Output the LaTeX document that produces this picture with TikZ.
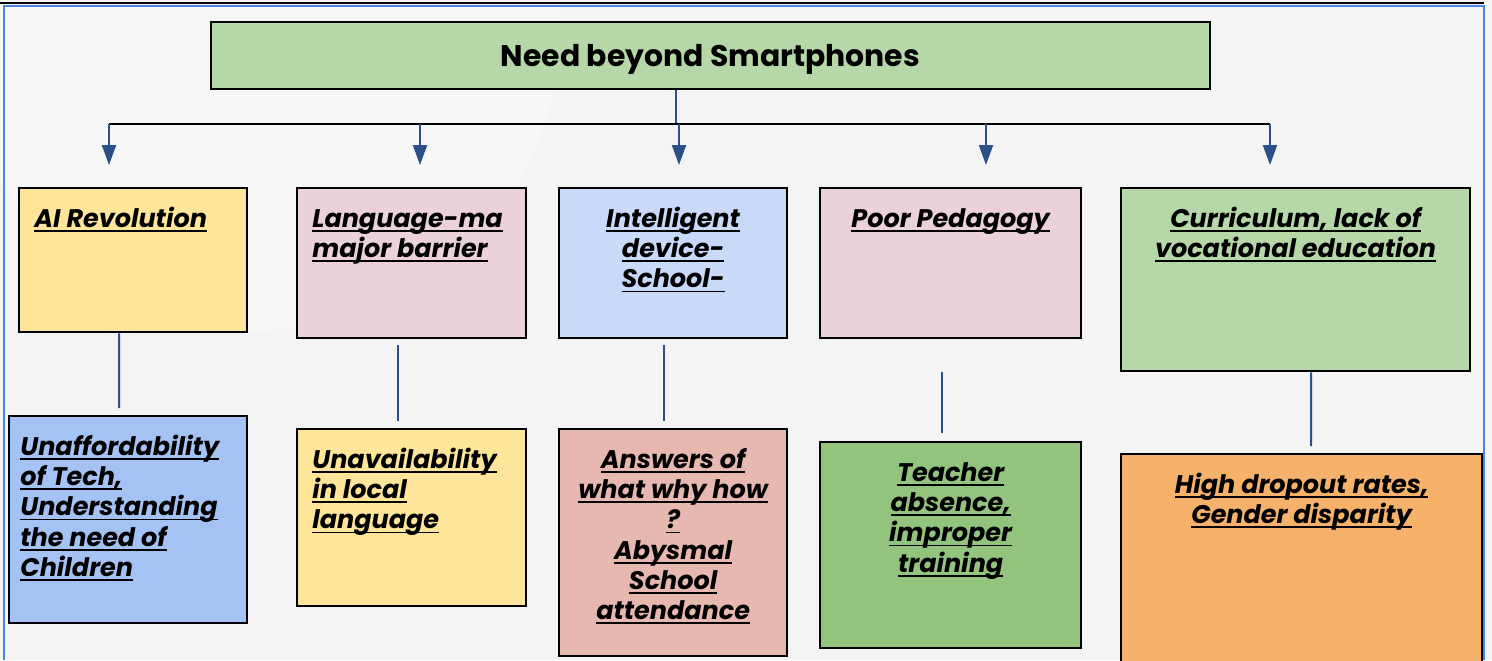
\documentclass[tikz,border=0pt]{standalone}
\usepackage{fontspec}
\setmainfont{Poppins}
\usetikzlibrary{arrows.meta}

\newsavebox{\ulbox}
\newcommand{\uln}[1]{\sbox{\ulbox}{#1}\rlap{\rule[-2.5pt]{\wd\ulbox}{1pt}}\usebox{\ulbox}}

\definecolor{bggray}{HTML}{F4F4F4}
\definecolor{framblue}{HTML}{4A86E8}
\definecolor{linkblue}{HTML}{2B4F86}
\definecolor{headgreen}{HTML}{B6D7A8}
\definecolor{boxyellow}{HTML}{FFE599}
\definecolor{boxpink}{HTML}{EAD1DC}
\definecolor{boxsky}{HTML}{C9DAF8}
\definecolor{boxblue}{HTML}{A4C2F4}
\definecolor{boxsalmon}{HTML}{E6B8AF}
\definecolor{boxgreen}{HTML}{93C47D}
\definecolor{boxorange}{HTML}{F6B26B}

\begin{document}
\begin{tikzpicture}[
    x=0.02cm, y=-0.02cm,
    box/.style={draw=black, line width=1.3pt, anchor=north west, inner sep=0pt},
    head/.style={draw=black, line width=1.3pt, fill=headgreen, text depth=0pt, font=\bfseries\fontsize{17}{20}\selectfont},
    txt/.style={inner sep=0pt, font=\bfseries\itshape\fontsize{14.5}{17.2}\selectfont},
    link/.style={draw=linkblue, line width=1.2pt},
    bus/.style={draw=black, line width=1.5pt},
    arrow/.style={link, -{Triangle[width=0.28cm,length=0.4cm]}, shorten >=0.44cm}
]
    % --- background and frame ---
    \fill[bggray] (0,0) rectangle (1492,660);
    \useasboundingbox (0,0) rectangle (1492,660);
    \fill[white, opacity=0.35] (260,30) circle (300);
    \draw[framblue, line width=1pt] (4,660) -- (4,6) -- (1484,6) -- (1484,660);
    \draw[black, line width=1.2pt] (0,3) -- (1484,3);

    % --- title ---
    \node[head, minimum width=19.98cm, minimum height=1.34cm] (need) at (710.5,55.5) {Need beyond Smartphones};

    % --- first row ---
    \node[box, fill=boxyellow, minimum width=4.56cm, minimum height=2.88cm] (ai) at (18,187) {};
    \node[txt, anchor=north west, align=left] (aiT) at ([xshift=0.32cm, yshift=-0.38cm]ai.north west) {\strut\uln{AI Revolution}};

    \node[box, fill=boxpink, minimum width=4.58cm, minimum height=3.0cm] (lang) at (296,187) {};
    \node[txt, anchor=north west, align=left] (langT) at ([xshift=0.32cm, yshift=-0.38cm]lang.north west) {\strut\uln{Language-ma}\\\uln{major barrier}};

    \node[box, fill=boxsky, minimum width=4.56cm, minimum height=3.0cm] (intel) at (558,187) {};
    \node[txt, anchor=north, align=center] (intelT) at ([yshift=-0.38cm]intel.north) {\strut\uln{Intelligent}\\\uln{device-}\\\uln{School-}};

    \node[box, fill=boxpink, minimum width=5.22cm, minimum height=3.0cm] (pedag) at (819,187) {};
    \node[txt, anchor=north, align=center] (pedagT) at ([yshift=-0.38cm]pedag.north) {\strut\uln{Poor Pedagogy}};

    \node[box, fill=headgreen, minimum width=6.98cm, minimum height=3.66cm] (curr) at (1120,187) {};
    \node[txt, anchor=north, align=center] (currT) at ([yshift=-0.38cm]curr.north) {\strut\uln{Curriculum, lack of}\\\uln{vocational education}};

    % --- second row ---
    \node[box, fill=boxblue, minimum width=4.76cm, minimum height=4.14cm] (afford) at (8,415) {};
    \node[txt, anchor=north west, align=left] (affordT) at ([xshift=0.24cm, yshift=-0.38cm]afford.north west) {\strut\uln{Unaffordability}\\\uln{of Tech,}\\\uln{Understanding}\\\uln{the need of}\\\uln{Children}};

    \node[box, fill=boxyellow, minimum width=4.58cm, minimum height=3.54cm] (avail) at (296,428) {};
    \node[txt, anchor=north west, align=left] (availT) at ([xshift=0.32cm, yshift=-0.38cm]avail.north west) {\strut\uln{Unavailability}\\\uln{in local}\\\uln{language}};

    \node[box, fill=boxsalmon, minimum width=4.56cm, minimum height=4.54cm] (answ) at (558,428) {};
    \node[txt, anchor=north, align=center] (answT) at ([yshift=-0.38cm]answ.north) {\strut\uln{Answers of}\\\uln{what why how}\\\uln{?}\\\uln{Abysmal}\\\uln{School}\\\uln{attendance}};

    \node[box, fill=boxgreen, minimum width=5.22cm, minimum height=4.12cm] (teach) at (819,441) {};
    \node[txt, anchor=north, align=center] (teachT) at ([yshift=-0.38cm]teach.north) {\strut\uln{Teacher}\\\uln{absence,}\\\uln{improper}\\\uln{training}};

    \node[box, fill=boxorange, minimum width=7.22cm, minimum height=4.5cm] (drop) at (1120,453) {};
    \node[txt, anchor=north, align=center] (dropT) at ([yshift=-0.38cm]drop.north) {\strut\uln{High dropout rates,}\\\uln{Gender disparity}};

    % --- title to first row ---
    \foreach \x/\n in {109/b1, 420/b2, 679/b3, 986/b4, 1270/b5}
        \coordinate (\n) at (\x,124);
    \draw[link] ([xshift=-0.69cm]need.south) -- ([xshift=-0.69cm]need.south |- b1);
    \draw[bus] (b1) -- (b5);
    \draw[arrow] (b1) -- (b1 |- ai.north);
    \draw[arrow] (b2) -- (b2 |- lang.north);
    \draw[arrow] (b3) -- (b3 |- intel.north);
    \draw[arrow] (b4) -- (b4 |- pedag.north);
    \draw[arrow] (b5) -- (b5 |- curr.north);

    % --- first row to second row ---
    \draw[link, shorten >=0.14cm] ([xshift=-0.28cm]ai.south) -- ([xshift=-0.18cm]afford.north);
    \draw[link, shorten <=0.12cm, shorten >=0.14cm] ([xshift=-0.27cm]lang.south) -- ([xshift=-0.27cm]avail.north);
    \draw[link, shorten <=0.12cm, shorten >=0.14cm] ([xshift=-0.18cm]intel.south) -- ([xshift=-0.18cm]answ.north);
    \draw[link, shorten <=0.66cm, shorten >=0.16cm] ([xshift=-0.17cm]pedag.south) -- ([xshift=-0.17cm]teach.north);
    \draw[link, shorten >=0.14cm] ([xshift=0.31cm]curr.south) -- ([xshift=0.19cm]drop.north);

\end{tikzpicture}
\end{document}
